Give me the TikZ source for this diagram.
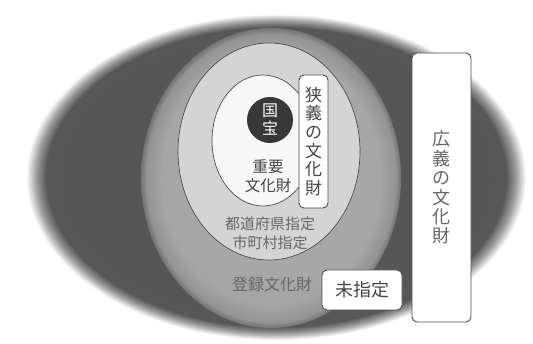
\documentclass[tikz,border=0pt]{standalone}
\usepackage{fontspec}
\newfontfamily\cjk{Noto Sans CJK JP}
\pgfdeclareradialshading{darkblur}{\pgfpoint{0bp}{0bp}}{rgb(0bp)=(0.33,0.33,0.33); rgb(23bp)=(0.34,0.34,0.34); rgb(24bp)=(0.62,0.62,0.62); rgb(25bp)=(1,1,1); rgb(50bp)=(1,1,1)}
\pgfdeclareradialshading{midblur}{\pgfpoint{0bp}{0bp}}{rgb(0bp)=(0.67,0.67,0.67); rgb(21bp)=(0.65,0.65,0.65); rgb(24bp)=(0.58,0.58,0.58); rgb(25bp)=(0.45,0.45,0.45); rgb(50bp)=(0.45,0.45,0.45)}
\definecolor{lineC}{gray}{0.3}
\definecolor{txtA}{gray}{0.27}
\definecolor{txtB}{gray}{0.4}
\definecolor{midC}{gray}{0.83}
\tikzset{
  lbl/.style={font=\cjk\fontsize{15}{18}\selectfont, inner sep=0pt, align=center},
  vbox/.style={draw=lineC, line width=0.9pt, fill=white, rounded corners=5pt, inner sep=0pt, align=center},
  ring/.style={draw=lineC, line width=0.7pt}
}
\begin{document}
\begin{tikzpicture}[x=1pt,y=-1pt]
\useasboundingbox (0,0) rectangle (533,344);
\fill[white] (0,0) rectangle (533,344);
% outer dark ellipse with soft edge
\shade[shading=darkblur] (276,177) ellipse [x radius=250pt, y radius=163pt];
% large circle (registered)
\shade[shading=midblur] (271,178) ellipse [x radius=130pt, y radius=150pt];
% middle ellipse
\filldraw[ring, fill=midC] (269,151.5) ellipse [x radius=91pt, y radius=108.5pt];
% inner ellipse
\filldraw[ring, fill=black!3] (263,140.5) ellipse [x radius=51pt, y radius=65.5pt];
% national treasure
\node[circle, fill=black!78, minimum size=46pt, inner sep=0pt] (kokuho) at (270,120) {};
\node[lbl, text=white, font=\cjk\fontsize{16}{18}\selectfont] (kokuhotxt) at (kokuho) {国\\宝};
\node[lbl, text=txtA, font=\cjk\fontsize{15.5}{18.5}\selectfont] (juyo) at (268,176) {重要\\文化財};
% narrow box
\node[vbox, minimum width=29pt, minimum height=133pt, text=txtA, font=\cjk\fontsize{17}{18.7}\selectfont] (narrow) at (313.5,141.5) {狭\\義\\の\\文\\化\\財};
\node[lbl, text=txtB, font=\cjk\fontsize{15}{19}\selectfont] (pref) at (270,233.5) {都道府県指定\\市町村指定};
\node[lbl, text=txtB, font=\cjk\fontsize{16}{18}\selectfont] (toroku) at (272,284) {登録文化財};
\node[vbox, minimum width=80pt, minimum height=40pt, text=txtA, font=\cjk\fontsize{18}{20}\selectfont] (mishitei) at (362,290) {未指定};
\node[vbox, minimum width=59pt, minimum height=269pt, text=txtB, font=\cjk\fontsize{18}{19.4}\selectfont] (broad) at (441.5,187.5) {広\\義\\の\\文\\化\\財};
\end{tikzpicture}
\end{document}
